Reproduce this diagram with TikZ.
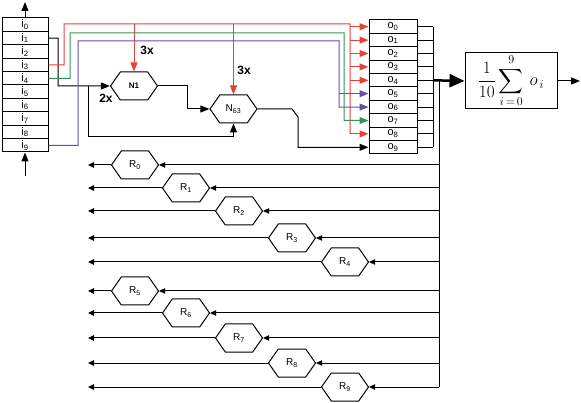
\documentclass[tikz,border=0pt]{standalone}
\usepackage{exscale}
\usepackage{fontspec}
\setsansfont{Liberation Sans}
\usetikzlibrary{arrows.meta,shapes.symbols}
\definecolor{wirered}{RGB}{232,64,58}
\definecolor{wiregreen}{RGB}{50,150,90}
\definecolor{wireblue}{RGB}{100,80,170}
\tikzset{
  cell/.style={draw, minimum width=46pt, minimum height=13.4pt, inner sep=0pt, font=\sffamily\fontsize{11}{11}\selectfont},
  hexnode/.style={draw, signal, signal to=east and west, signal pointer angle=110, minimum width=47pt, minimum height=28pt, inner sep=0pt, font=\sffamily\fontsize{10}{10}\selectfont},
  tip/.style={-{Triangle[length=9pt,width=7pt]}},
  smalltip/.style={-{Triangle[length=6pt,width=5.5pt]}},
  mult/.style={font=\sffamily\bfseries\fontsize{12}{12}\selectfont}
}
\begin{document}
\begin{tikzpicture}[x=1pt,y=-1pt,line width=1pt]
\useasboundingbox (0,0) rectangle (581,403);
\foreach \k in {0,...,9}{
  \node[cell] (i\k) at (25,24.7+13.4*\k) {i\textsubscript{\k}};
  \node[cell, minimum width=48pt] (o\k) at (393,26.7+13.4*\k) {o\textsubscript{\k}};
}
\node[hexnode, font=\sffamily\bfseries\fontsize{8}{8}\selectfont] (N1) at (134,86) {N1};
\node[hexnode] (N63) at (233.5,109) {N\textsubscript{63}};
\node[draw, minimum width=92pt, minimum height=56pt, inner sep=0pt, font=\fontsize{18}{20}\selectfont] (sum) at (511,81) {$\displaystyle\frac{1}{10}\sum_{i\,=\,0}^{9}\, o_{\,i}$};
\node[mult] (m1) at (147,50) {3x};
\node[mult] (m2) at (244,70) {3x};
\node[mult] (m3) at (106,98) {2x};
\coordinate (itop) at (25,2);
\coordinate (ibot) at (25,176);
\coordinate (rbus) at (350,24);
\coordinate (gbus) at (344,33);
\coordinate (bbus) at (339,41);
\coordinate (fan) at (433,80.3);
\coordinate (out) at (580,81);
% input column
\draw[tip] (i0.north) -- (itop);
\draw[tip] (ibot) -- (i9.south);
\draw[tip] (i1.east) -- (58,38.1) |- (N1.west);
\draw[tip] (88,86) |- (233.5,137) -- (N63.south);
\draw[tip] (N1.east) -- (187,86) |- (N63.west);
\draw[tip] (N63.east) -- (292,109) -- (298,117) |- (o9.west);
% coloured wires
\draw[wirered] (i3.east) -- (64,64.9) |- (rbus) -- (o8.west -| rbus);
\foreach \k in {0,1,2,3,4,8}
  \draw[wirered,tip] (o\k.west -| rbus) -- (o\k.west);
\draw[wirered,tip] (N1.north |- rbus) -- (N1.north);
\draw[wirered,tip] (N63.north |- rbus) -- (N63.north);
\draw[wiregreen,tip] (i4.east) -- (70,78.3) |- (gbus) |- (o7.west);
\draw[wireblue,tip] (i9.east) -- (78,145.3) |- (bbus) |- (o6.west);
\draw[wireblue,tip] (o5.west -| bbus) -- (o5.west);
% averaging
\foreach \k in {0,...,9}
  \draw (o\k.east) -- (o\k.east -| fan);
\draw (o0.east -| fan) -- (o9.east -| fan);
\draw[line width=2.5pt,-{Triangle[length=15pt,width=13pt]}] (fan) -- (sum.west);
\draw[tip] (sum.east) -- (out);
% feedback rows
\foreach \k/\x/\y in {0/135/165, 1/186/188, 2/239/211, 3/292/238, 4/345/262, 5/135/291, 6/186/313, 7/239/338, 8/292/363, 9/345/387}{
  \node[hexnode] (R\k) at (\x,\y) {R\textsubscript{\k}};
  \coordinate (rin\k) at (439,\y);
  \coordinate (rout\k) at (88,\y);
  \draw[smalltip] (rin\k) -- (R\k.east);
  \draw[smalltip] (R\k.west) -- (rout\k);
}
\draw (439,80.3) -- (rin9);
\end{tikzpicture}
\end{document}
